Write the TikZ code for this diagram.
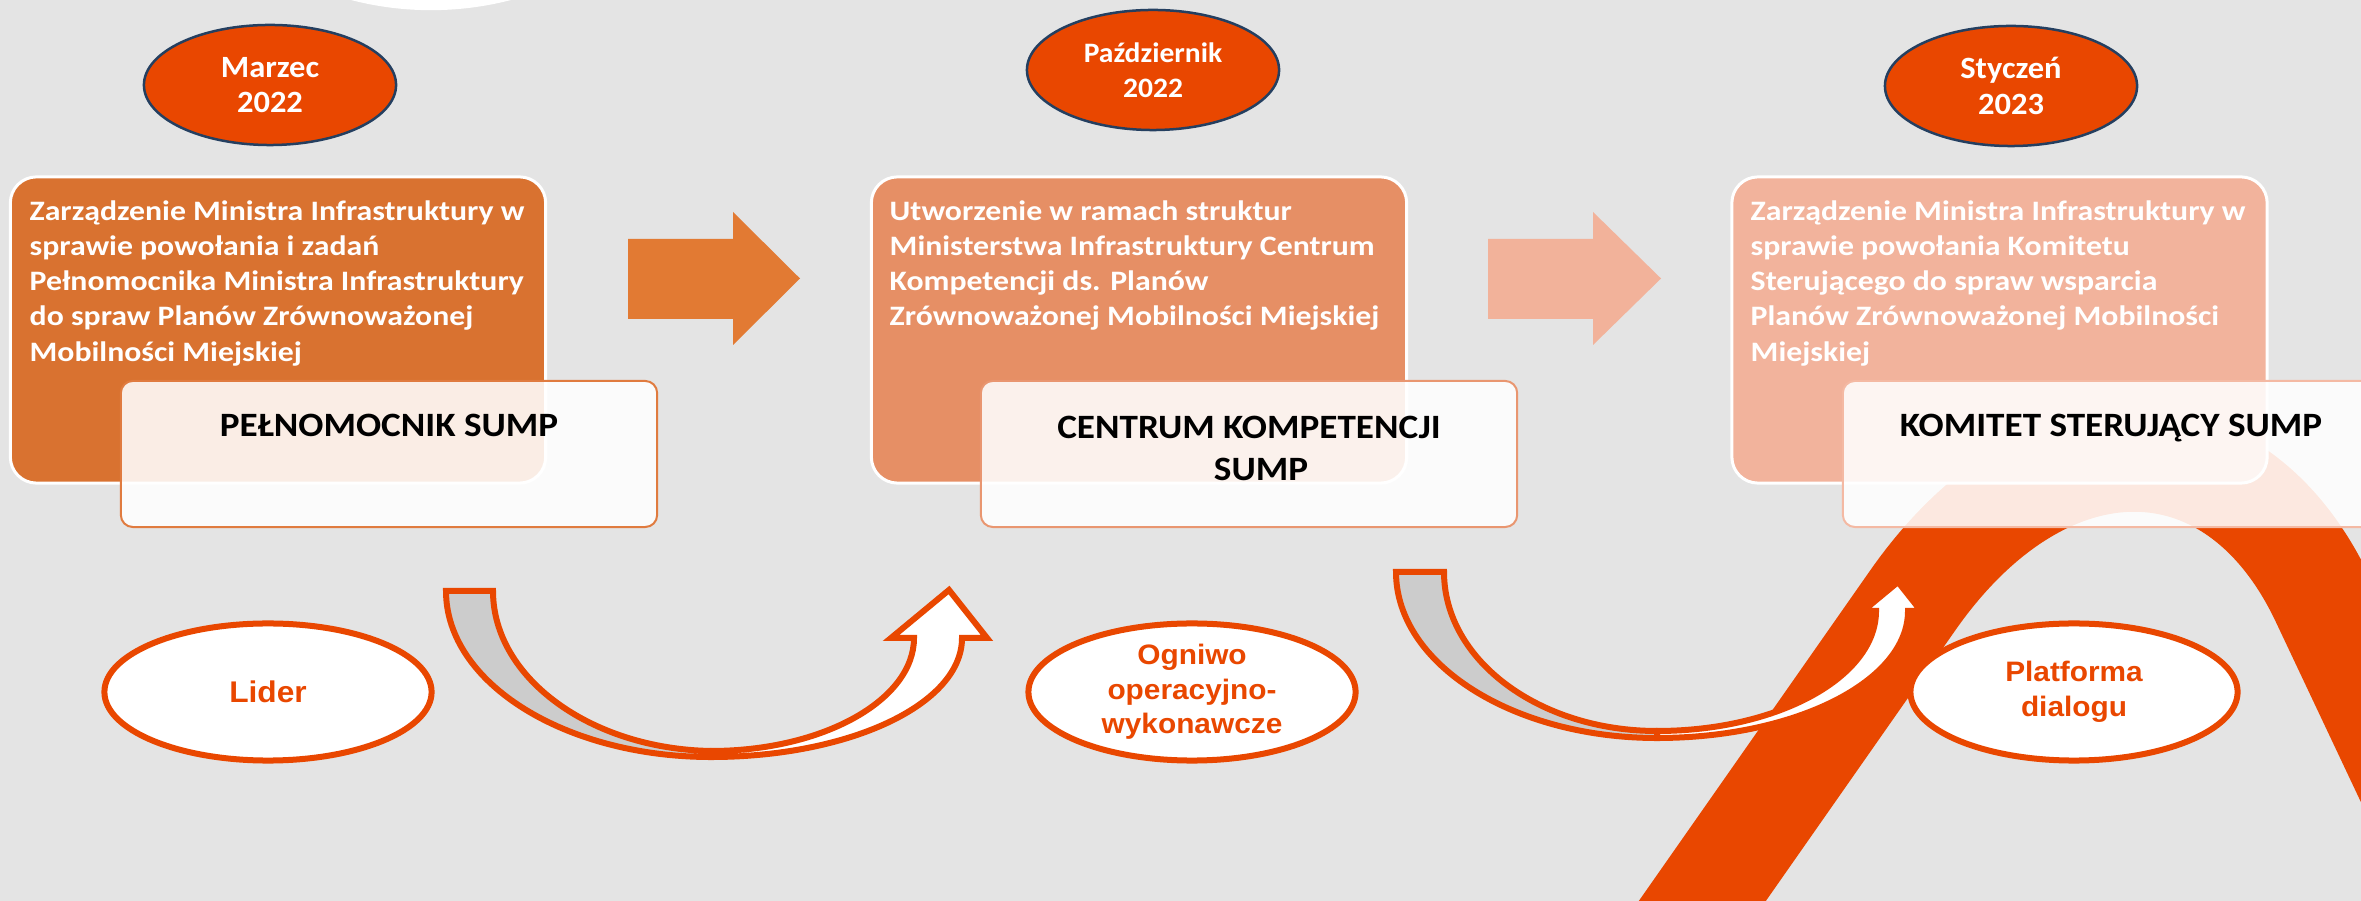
\documentclass[tikz,border=0pt]{standalone}
\usepackage{fontspec}
\newfontfamily\calmain[FakeStretch=1.13]{Carlito}
\newfontfamily\calname[FakeStretch=1.09]{Carlito}
\newfontfamily\caldate[FakeStretch=1.05]{Carlito}
\newfontfamily\arirole[FakeStretch=1.06]{Liberation Sans}
\usetikzlibrary{shapes.geometric}
\definecolor{bg}{HTML}{E4E4E4}
\definecolor{red1}{HTML}{E94700}
\definecolor{navy}{HTML}{243F60}
\definecolor{boxA}{HTML}{D97230}
\definecolor{boxB}{HTML}{E68F65}
\definecolor{boxC}{HTML}{F2B39C}
\definecolor{arrA}{HTML}{E27A33}
\definecolor{arrB}{HTML}{F2B29A}
\definecolor{lineA}{HTML}{E07B3F}
\definecolor{lineB}{HTML}{E99670}
\definecolor{lineC}{HTML}{F4B9A3}
\definecolor{grayband}{HTML}{CCCCCC}
\begin{document}
\begin{tikzpicture}[x=0.01cm,y=-0.01cm,
  datebubble/.style={ellipse, draw=navy, line width=0.025cm, fill=red1, minimum width=2.52cm, minimum height=1.20cm, inner sep=0pt, text=white, align=center, font=\caldate\bfseries\fontsize{8.8}{10}\selectfont},
  mainbox/.style={rectangle, rounded corners=0.26cm, draw=white, line width=0.03cm, minimum width=5.35cm, minimum height=3.06cm, inner sep=0pt},
  maintext/.style={anchor=north west, inner sep=0pt, align=left, text=white, font=\calmain\bfseries\fontsize{8}{10}\selectfont},
  namebox/.style={rectangle, rounded corners=0.12cm, fill=white, fill opacity=0.88, line width=0.02cm, minimum width=5.36cm, minimum height=1.46cm, inner sep=0pt},
  nametext/.style={inner sep=0pt, align=center, text=black, font=\calname\bfseries\fontsize{9.7}{12}\selectfont},
  rolebubble/.style={ellipse, draw=red1, line width=0.06cm, fill=white, minimum width=3.27cm, minimum height=1.37cm, inner sep=0pt, text=red1, align=center, font=\arirole\bfseries\fontsize{8}{9.8}\selectfont},
  uback/.style={fill=grayband, draw=red1, line width=0.06cm, line join=miter},
  ufront/.style={fill=white, draw=red1, line width=0.06cm, line join=miter}
]
\useasboundingbox (0,0) rectangle (2361,901);
\fill[bg] (0,0) rectangle (2361,901);
\begin{scope}
\clip (0,0) rectangle (2361,901);
% top white arc
\fill[white] (431,-307) circle (3.17cm);
% big arch shape
\draw[red1, line width=1.04cm, line join=round] (1661,960) -- (1913,600) .. controls (2044,413) and (2235,413) .. (2323,600) -- (2493,960);
\end{scope}

% date bubbles
\node[datebubble] (d1) at (270,85) {Marzec\\2022};
\node[datebubble, font=\caldate\bfseries\fontsize{8}{10}\selectfont] (d2) at (1153,70) {Październik\\2022};
\node[datebubble] (d3) at (2011,86) {Styczeń\\2023};

% main boxes
\node[mainbox, fill=boxA] (b1) at (278,330) {};
\node[mainbox, fill=boxB] (b2) at (1139,330) {};
\node[mainbox, fill=boxC] (b3) at (1999.5,330) {};

\node[maintext] (t1) at (29,200) {Zarządzenie Ministra Infrastruktury w\\sprawie powołania i zadań\\Pełnomocnika Ministra Infrastruktury\\do spraw Planów Zrównoważonej\\Mobilności Miejskiej};
\node[maintext] (t2) at (889,200) {Utworzenie w ramach struktur\\Ministerstwa Infrastruktury Centrum\\Kompetencji ds. Planów\\Zrównoważonej Mobilności Miejskiej};
\node[maintext] (t3) at (1750,200) {Zarządzenie Ministra Infrastruktury w\\sprawie powołania Komitetu\\Sterującego do spraw wsparcia\\Planów Zrównoważonej Mobilności\\Miejskiej};

% block arrows
\fill[arrA] (628,239) -- (733,239) -- (733,212) -- (800,278.5) -- (733,345) -- (733,319) -- (628,319) -- cycle;
\fill[arrB] (1488,239) -- (1593,239) -- (1593,212) -- (1661,278.5) -- (1593,345) -- (1593,319) -- (1488,319) -- cycle;

% name boxes
\node[namebox, draw=lineA] (n1) at (389,454) {};
\node[namebox, draw=lineB] (n2) at (1249,454) {};
\node[namebox, draw=lineC] (n3) at (2111,454) {};
\node[nametext, anchor=base] (l1) at (389,437) {PEŁNOMOCNIK SUMP};
\node[nametext, anchor=north] (l2) at (1249,415) {CENTRUM KOMPETENCJI\\\hspace*{0.24cm}SUMP};
\node[nametext, anchor=base] (l3) at (2111,437) {KOMITET STERUJĄCY SUMP};

% U-turn arrow 1
\draw[uback] (446,591) -- (493,591) .. controls (493,678) and (591,749) .. (711,751) -- (711,757) .. controls (565,757) and (446,683) .. cycle;
\draw[ufront] (711,751) .. controls (823,751) and (914,700) .. (914,638) -- (891,638) -- (949,590) -- (987,638) -- (962,638) .. controls (962,704) and (850,757) .. (711,757) -- cycle;

% U-turn arrow 2
\draw[uback] (1396,572) -- (1444,572) .. controls (1444,660) and (1539,731) .. (1657,731) -- (1657,738) .. controls (1513,738) and (1396,664) .. cycle;
\draw[ufront] (1657,731) .. controls (1778,731) and (1876,677) .. (1876,611) -- (1863,611) -- (1898,582) -- (1921,611) -- (1908,611) .. controls (1908,681) and (1796,738) .. (1657,738) -- cycle;

% role bubbles
\node[rolebubble, font=\arirole\bfseries\fontsize{8.5}{10}\selectfont] (r1) at (268,692) {Lider};
\node[rolebubble] (r2) at (1192,692) {Ogniwo\\operacyjno-\\wykonawcze};
\node[rolebubble] (r3) at (2074,692) {Platforma\\dialogu};
\end{tikzpicture}
\end{document}
